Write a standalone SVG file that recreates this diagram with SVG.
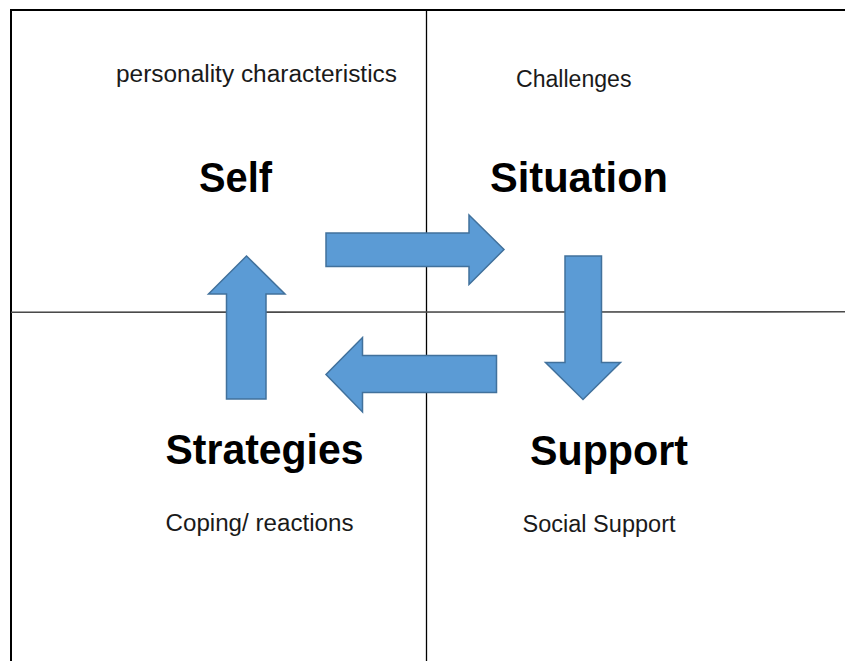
<svg xmlns="http://www.w3.org/2000/svg" width="845" height="661" viewBox="0 0 845 661">
  <style>
    .frame { stroke: #000; stroke-width: 2; fill: none; }
    .divider { stroke: #000; stroke-width: 1.3; fill: none; }
    .hdivider { stroke: #4a4a4a; stroke-width: 1.6; fill: none; }
    .arrow { fill: #5B9BD5; stroke: #41719C; stroke-width: 1.5; stroke-linejoin: miter; }
    .title { font-family: "Liberation Sans", Arial, sans-serif; font-weight: bold; font-size: 43px; fill: #000; }
    .sub { font-family: "Liberation Sans", Arial, sans-serif; font-size: 23px; fill: #1a1a1a; }
  </style>
  <rect width="845" height="661" fill="#fff"/>
  <g id="grid">
    <polyline class="frame" points="11,661 11,10 845,10"/>
    <line class="divider" x1="426.5" y1="10" x2="426.5" y2="661"/>
    <line class="hdivider" x1="11" y1="312.3" x2="845" y2="311.8"/>
  </g>
  <g id="connectors">
    <path id="arrow-self-situation" class="arrow" d="M326,233 H469 V215 L504,249.5 L469,284.5 V266.5 H326 Z"/>
    <path id="arrow-situation-support" class="arrow" d="M565,256 H601.5 V362.5 H620.5 L583,399.5 L545.5,362.5 H565 Z"/>
    <path id="arrow-support-strategies" class="arrow" d="M496.5,355.5 V392.5 H362.5 V412 L326,374.5 L362.5,337.5 V355.5 Z"/>
    <path id="arrow-strategies-self" class="arrow" d="M246.5,256 L285,294 H266 V399 H226.5 V294 H208.5 Z"/>
  </g>
  <g id="self">
    <text class="sub" x="116" y="82" textLength="281" lengthAdjust="spacingAndGlyphs">personality characteristics</text>
    <text class="title" x="199" y="192" textLength="73" lengthAdjust="spacingAndGlyphs">Self</text>
  </g>
  <g id="situation">
    <text class="sub" x="516" y="86.5" textLength="115.5" lengthAdjust="spacingAndGlyphs">Challenges</text>
    <text class="title" x="490" y="192" textLength="178" lengthAdjust="spacingAndGlyphs">Situation</text>
  </g>
  <g id="strategies">
    <text class="title" x="165.5" y="464" textLength="198" lengthAdjust="spacingAndGlyphs">Strategies</text>
    <text class="sub" x="165.5" y="531" textLength="188" lengthAdjust="spacingAndGlyphs">Coping/ reactions</text>
  </g>
  <g id="support">
    <text class="title" x="530" y="464.5" textLength="158" lengthAdjust="spacingAndGlyphs">Support</text>
    <text class="sub" x="522.5" y="531.5" textLength="153" lengthAdjust="spacingAndGlyphs">Social Support</text>
  </g>
</svg>
